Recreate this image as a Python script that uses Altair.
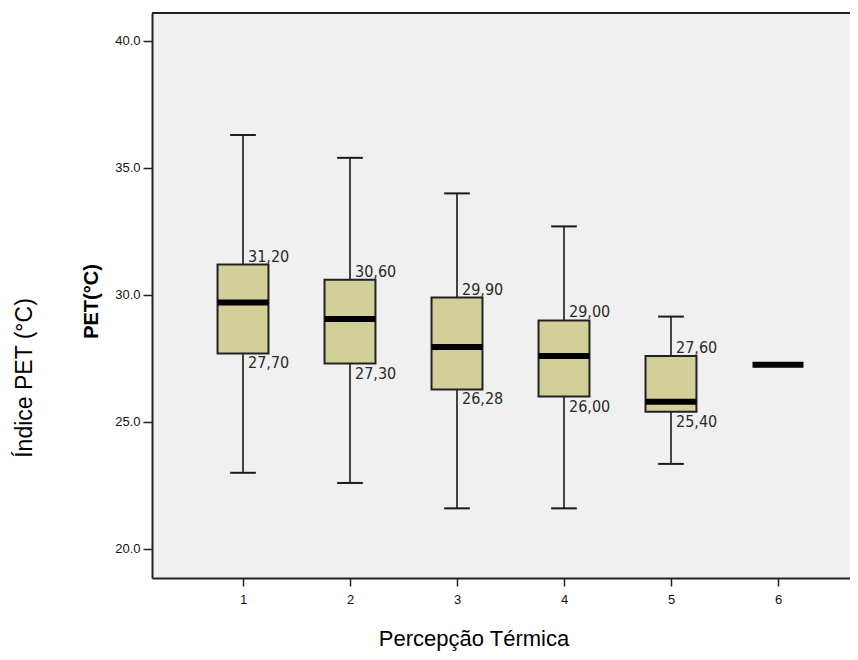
import altair as alt
import pandas as pd

# ---- data ----
groups = [1, 2, 3, 4, 5]
whisk_low = [23.0, 22.6, 21.6, 21.6, 23.35]
q1 = [27.70, 27.30, 26.28, 26.00, 25.40]
q3 = [31.20, 30.60, 29.90, 29.00, 27.60]
whisk_high = [36.3, 35.4, 34.0, 32.7, 29.15]
med_groups = [1, 2, 3, 4, 5, 6]
medians = [29.7, 29.05, 27.95, 27.6, 25.8, 27.25]
x_ticks = [1, 2, 3, 4, 5, 6]
y_ticks = [20, 25, 30, 35, 40]

box_df = pd.DataFrame({
    "g": groups, "low": whisk_low, "q1": q1, "q3": q3, "high": whisk_high,
    "q1_lab": [f"{v:.2f}".replace(".", ",") for v in q1],
    "q3_lab": [f"{v:.2f}".replace(".", ",") for v in q3],
})
med_df = pd.DataFrame({"g": med_groups, "med": medians})

W, H = 698, 565
HALF_BOX = 0.238
HALF_CAP = 0.12

xscale = alt.Scale(domain=[0.1495, 6.673], nice=False, zero=False)
yscale = alt.Scale(domain=[18.858, 41.102], nice=False, zero=False)

x_axis = alt.Axis(values=x_ticks, format="d", title=None, grid=False,
                  tickSize=8, tickWidth=1.5, tickColor="#222",
                  domainColor="#222", domainWidth=2,
                  labelFont="Liberation Sans", labelFontSize=13, labelColor="#111",
                  labelPadding=7)
y_axis = alt.Axis(values=y_ticks, format=".1f", title="PET(°C)", grid=False,
                  tickSize=9, tickWidth=1.5, tickColor="#222",
                  domainColor="#222", domainWidth=2,
                  labelFont="Liberation Sans", labelFontSize=13, labelColor="#111",
                  labelPadding=3,
                  titleFont="Liberation Sans", titleFontSize=20, titleFontWeight="bold",
                  titleColor="#000", titleX=-61, titleY=288, titleAngle=270,
                  titleAlign="center", titleBaseline="middle")

base = alt.Chart(box_df)

whisker = base.mark_rule(color="#1a1a1a", strokeWidth=1.6).encode(
    x=alt.X("g:Q", scale=xscale, axis=x_axis),
    y=alt.Y("low:Q", scale=yscale, axis=y_axis),
    y2="high:Q",
)

caps_low = base.transform_calculate(
    xa=f"datum.g - {HALF_CAP}", xb=f"datum.g + {HALF_CAP}"
).mark_rule(color="#1a1a1a", strokeWidth=2).encode(
    x=alt.X("xa:Q", scale=xscale), x2="xb:Q", y=alt.Y("low:Q", scale=yscale)
)
caps_high = base.transform_calculate(
    xa=f"datum.g - {HALF_CAP}", xb=f"datum.g + {HALF_CAP}"
).mark_rule(color="#1a1a1a", strokeWidth=2).encode(
    x=alt.X("xa:Q", scale=xscale), x2="xb:Q", y=alt.Y("high:Q", scale=yscale)
)

boxes = base.transform_calculate(
    xa=f"datum.g - {HALF_BOX}", xb=f"datum.g + {HALF_BOX}"
).mark_rect(fill="#d3cf98", stroke="#222", strokeWidth=2).encode(
    x=alt.X("xa:Q", scale=xscale), x2="xb:Q",
    y=alt.Y("q1:Q", scale=yscale), y2="q3:Q",
)

median = alt.Chart(med_df).transform_calculate(
    xa=f"datum.g - {HALF_BOX}", xb=f"datum.g + {HALF_BOX}"
).mark_rule(color="#000", strokeWidth=6, strokeCap="butt").encode(
    x=alt.X("xa:Q", scale=xscale), x2="xb:Q", y=alt.Y("med:Q", scale=yscale)
)

lab_font = "DejaVu Sans Condensed, DejaVu Sans"
lab_top = base.mark_text(align="left", baseline="alphabetic", dx=5, dy=-3,
                         font=lab_font, fontSize=16, color="#2a2a2a").encode(
    x=alt.X("g:Q", scale=xscale), y=alt.Y("q3:Q", scale=yscale), text="q3_lab:N"
)
lab_bot = base.mark_text(align="left", baseline="alphabetic", dx=5, dy=15,
                         font=lab_font, fontSize=16, color="#2a2a2a").encode(
    x=alt.X("g:Q", scale=xscale), y=alt.Y("q1:Q", scale=yscale), text="q1_lab:N"
)

one = pd.DataFrame({"t": ["Índice PET (°C)"]})
top_border = alt.Chart(one).mark_rule(color="#222", strokeWidth=2).encode(
    x=alt.value(0), x2=alt.value(W), y=alt.value(0)
)
outer_y = alt.Chart(one).mark_text(angle=270, align="center", baseline="middle",
                                   font="Liberation Sans", fontSize=23, color="#000").encode(
    x=alt.value(-127), y=alt.value(365), text="t:N"
)
one_x = pd.DataFrame({"t": ["Percepção Térmica"]})
outer_x = alt.Chart(one_x).mark_text(align="center", baseline="alphabetic",
                                     font="Liberation Sans", fontSize=22, color="#000").encode(
    x=alt.value(322), y=alt.value(633), text="t:N"
)

chart = alt.layer(
    whisker, caps_low, caps_high, boxes, median, lab_top, lab_bot,
    top_border, outer_y, outer_x
).properties(
    width=W, height=H, autosize="none",
    padding={"left": 144, "top": 5, "right": 0, "bottom": 74},
    background="white",
).configure_view(
    fill="#f0f0f0", stroke=None
)

chart.save("out.html", embed_options={"renderer": "svg", "actions": False})
